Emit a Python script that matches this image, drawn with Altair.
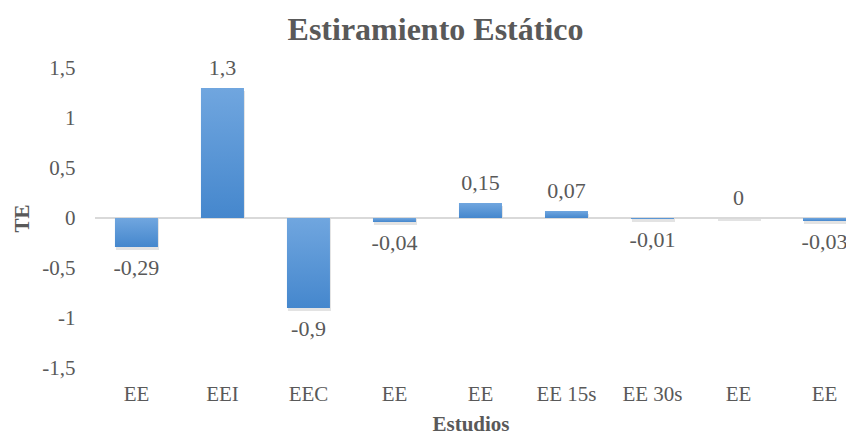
import altair as alt
import pandas as pd

categories = ["EE", "EEI", "EEC", "EE", "EE", "EE 15s", "EE 30s", "EE", "EE"]
values = [-0.29, 1.3, -0.9, -0.04, 0.15, 0.07, -0.01, 0, -0.03]
y_ticks = [-1.5, -1, -0.5, 0, 0.5, 1, 1.5]

df = pd.DataFrame({"idx": list(range(len(categories))), "cat": categories, "v": values})

FONT = "Liberation Serif"
TXT = "#595959"

label_array = "[" + ",".join("'" + c + "'" for c in categories) + "]"

x = alt.X(
    "idx:O",
    title="Estudios",
    scale=alt.Scale(paddingInner=0.5, paddingOuter=0.116, align=1),
    axis=alt.Axis(
        labelExpr=label_array + "[datum.value]",
        labelAngle=0,
        labelFont=FONT,
        labelFontSize=21,
        labelColor=TXT,
        labelPadding=15,
        ticks=False,
        domain=False,
        grid=False,
        titleFont=FONT,
        titleFontSize=21,
        titleFontWeight="bold",
        titleColor=TXT,
        titlePadding=9,
    ),
)
y = alt.Y(
    "v:Q",
    title="TE",
    scale=alt.Scale(domain=[-1.5, 1.5], nice=False),
    axis=alt.Axis(
        values=y_ticks,
        labelExpr="replace(toString(datum.value), '.', ',')",
        labelFont=FONT,
        labelFontSize=21,
        labelColor=TXT,
        labelPadding=20,
        ticks=False,
        domain=False,
        grid=False,
        titleFont=FONT,
        titleFontSize=21,
        titleFontWeight="bold",
        titleColor=TXT,
        titlePadding=9,
    ),
)

base = alt.Chart(df)

shadow = base.mark_bar(color="#808080", opacity=0.22, yOffset=3, xOffset=1).encode(x=x, y=y, y2=alt.datum(0))

grad = alt.Gradient(
    gradient="linear",
    stops=[alt.GradientStop(color="#70a6df", offset=0), alt.GradientStop(color="#4587cd", offset=1)],
    x1=0, x2=0, y1=0, y2=1,
)
bars = base.mark_bar(color=grad).encode(x=x, y=y, y2=alt.datum(0))

zero = base.mark_rule(color="#d9d9d9", strokeWidth=1.5).encode(y=alt.datum(0))

lbl = base.transform_calculate(lab="replace(toString(datum.v), '.', ',')")
pos_text = lbl.transform_filter("datum.v >= 0").mark_text(
    font=FONT, fontSize=22, color=TXT, baseline="middle", dy=-20
).encode(x=x, y=y, text="lab:N")
neg_text = lbl.transform_filter("datum.v < 0").mark_text(
    font=FONT, fontSize=22, color=TXT, baseline="middle", dy=21
).encode(x=x, y=y, text="lab:N")

chart = (
    alt.layer(shadow, zero, bars, pos_text, neg_text)
    .properties(
        width=751,
        height=300,
        autosize=alt.AutoSizeParams(type="none"),
        padding={"left": 87, "top": 60, "right": 0, "bottom": 66},
        view=alt.ViewBackground(stroke="transparent", strokeWidth=0),
        title=alt.TitleParams(
            "Estiramiento Estático",
            font=FONT,
            fontSize=32,
            fontWeight="bold",
            color=TXT,
            anchor="middle",
            dx=-35,
            offset=10,
        ),
    )
    .configure_view(stroke="transparent", strokeWidth=0)
    .configure_axis(grid=False)
    .configure(background="white")
)

chart.save("out.html", embed_options={"renderer": "svg", "actions": False})
